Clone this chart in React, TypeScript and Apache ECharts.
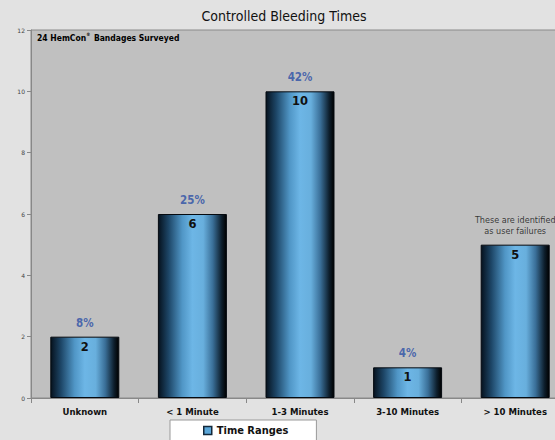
import React, { useEffect, useRef } from "react";
import * as echarts from "echarts";

const categories = ["Unknown", "< 1 Minute", "1-3 Minutes", "3-10 Minutes", "> 10 Minutes"];
const counts = [2, 6, 10, 1, 5];
const percents = ["8%", "25%", "42%", "4%", ""];
const notes = ["", "", "", "", "These are identified\nas user failures"];
const yTicks = { min: 0, max: 12, interval: 2 };
const seriesName = "Time Ranges";
const titleText = "Controlled Bleeding Times";

const FONT = "'DejaVu Sans', Verdana, sans-serif";
const CFONT = "'DejaVu Sans Condensed', 'DejaVu Sans', sans-serif";

export default function App() {
  const ref = useRef<HTMLDivElement>(null);
  useEffect(() => {
    document.body.style.overflow = "hidden";
    if (!ref.current) return;
    const chart = echarts.init(ref.current, undefined, { renderer: "svg" });
    const barGradient = new echarts.graphic.LinearGradient(0, 0, 1, 0, [
      { offset: 0, color: "#06121e" },
      { offset: 0.15, color: "#1d4667" },
      { offset: 0.35, color: "#5096c6" },
      { offset: 0.5, color: "#6db6e6" },
      { offset: 0.66, color: "#68afdd" },
      { offset: 0.8, color: "#3a6f98" },
      { offset: 0.93, color: "#0d1e2c" },
      { offset: 1, color: "#000000" },
    ]);
    chart.setOption({
      animation: false,
      backgroundColor: "#e2e2e2",
      textStyle: { fontFamily: CFONT },
      grid: {
        left: 31,
        top: 30,
        right: 0,
        bottom: 42,
        show: true,
        backgroundColor: "#c0c0c0",
        borderColor: "#8a8a8a",
        borderWidth: 1,
        containLabel: false,
      },
      graphic: [
        {
          type: "text",
          x: 284,
          y: 16,
          style: {
            text: titleText,
            font: `14px ${CFONT}`,
            fill: "#111",
            textAlign: "center",
            textVerticalAlign: "middle",
          },
        },
        {
          type: "text",
          x: 37,
          y: 32,
          style: {
            text: "{a|24 HemCon}{s|®}{a| Bandages Surveyed}",
            rich: {
              a: { fontSize: 8.5, fontWeight: "bold", color: "#1a1a1a", fontFamily: CFONT },
              s: { fontSize: 4.5, fontWeight: "bold", color: "#1a1a1a", padding: [0, 1, 6, 0], fontFamily: CFONT },
            },
          },
        },
      ],
      legend: {
        data: [
          {
            name: seriesName,
            itemStyle: { color: "#5aa6d8", borderColor: "#13283a", borderWidth: 1.5 },
          },
        ],
        left: 170,
        top: 420,
        icon: "rect",
        itemWidth: 8,
        itemHeight: 8,
        itemGap: 5,
        backgroundColor: "#ffffff",
        borderColor: "#9a9a9a",
        borderWidth: 1,
        padding: [5, 28, 12, 33],
        textStyle: { fontSize: 11, fontWeight: "bold", color: "#111", fontFamily: CFONT },
      },
      xAxis: {
        type: "category",
        data: categories,
        axisLine: { lineStyle: { color: "#888", width: 1 } },
        axisTick: { show: true, length: 5, lineStyle: { color: "#888" } },
        axisLabel: { fontSize: 9.5, fontWeight: "bold", color: "#111", margin: 8, fontFamily: CFONT },
      },
      yAxis: {
        type: "value",
        min: yTicks.min,
        max: yTicks.max,
        interval: yTicks.interval,
        axisLine: { show: true, lineStyle: { color: "#888" } },
        axisTick: { show: true, length: 4, lineStyle: { color: "#888" } },
        splitLine: { show: false },
        axisLabel: { fontSize: 6, color: "#444", margin: 6, fontFamily: FONT },
      },
      series: [
        {
          name: seriesName,
          type: "bar",
          data: counts,
          barWidth: 69,
          itemStyle: { color: barGradient, borderColor: "#050a10", borderWidth: 1 },
          label: {
            show: true,
            position: "insideTop",
            distance: 4,
            fontSize: 11.5,
            fontWeight: "bold",
            color: "#111",
            fontFamily: FONT,
          },
          z: 2,
        },
        {
          name: "labels",
          type: "scatter",
          data: counts,
          symbolSize: 0,
          silent: true,
          label: {
            show: true,
            position: "top",
            distance: 8,
            formatter: (p: any) => {
              const i = p.dataIndex;
              if (percents[i]) return `{p|${percents[i]}}`;
              return `{n|${notes[i]}}`;
            },
            rich: {
              p: { fontSize: 11.5, fontWeight: "bold", color: "#2b4fa6", fontFamily: CFONT },
              n: { fontSize: 9, color: "#111", lineHeight: 11, fontFamily: CFONT, align: "center" },
            },
          },
          z: 3,
        },
      ],
    });
    return () => chart.dispose();
  }, []);
  return (
    <div
      ref={ref}
      style={{ position: "fixed", left: 0, top: 0, width: 569, height: 440 }}
    />
  );
}
